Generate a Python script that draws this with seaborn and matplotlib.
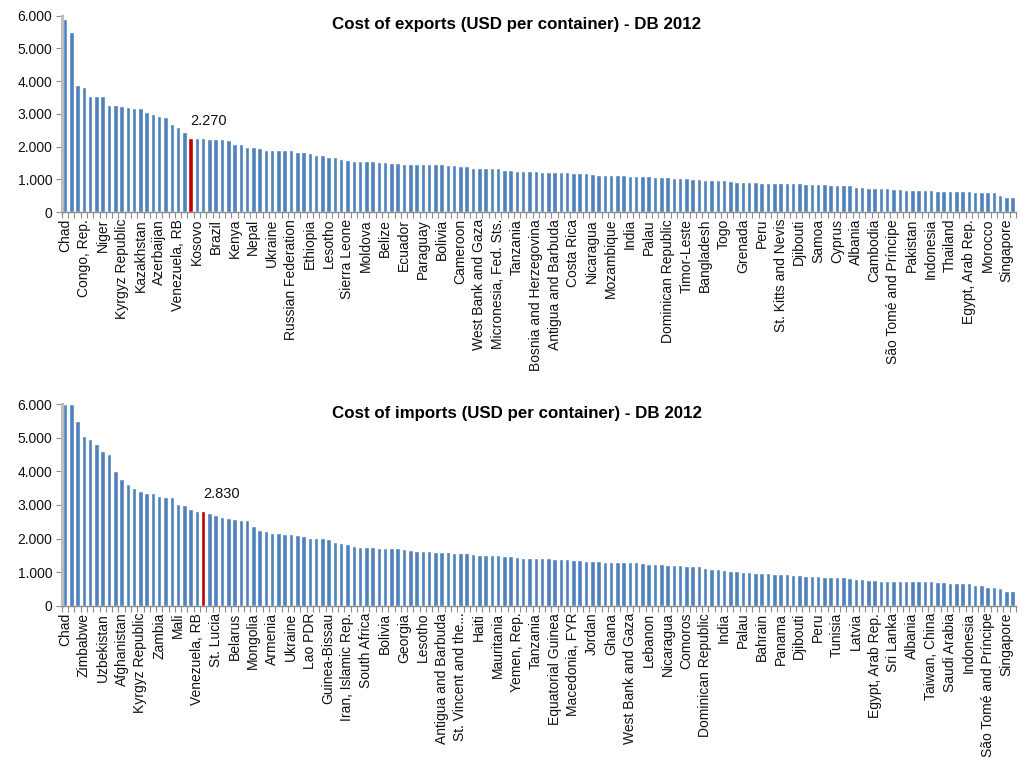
import numpy as np
import matplotlib
matplotlib.use("Agg")
import matplotlib.pyplot as plt
from matplotlib.ticker import FuncFormatter, FixedLocator
import seaborn as sns

# Cost of exports, USD per container (DB 2012), sorted from highest to lowest
export_values = [
    5902, 5490, 3870, 3818, 3545, 3545, 3545, 3280, 3280, 3230,
    3200, 3170, 3170, 3060, 3000, 2930, 2900, 2700, 2590, 2440,
    2270, 2270, 2270, 2240, 2240, 2240, 2215, 2080, 2080, 1990,
    1990, 1955, 1890, 1890, 1890, 1890, 1890, 1820, 1820, 1790,
    1730, 1730, 1690, 1690, 1630, 1600, 1560, 1560, 1560, 1560,
    1525, 1525, 1495, 1495, 1465, 1465, 1465, 1465, 1465, 1465,
    1465, 1425, 1425, 1395, 1395, 1355, 1335, 1335, 1335, 1335,
    1300, 1300, 1260, 1260, 1260, 1260, 1230, 1230, 1230, 1230,
    1230, 1200, 1200, 1200, 1160, 1140, 1140, 1140, 1140, 1140,
    1100, 1100, 1100, 1100, 1070, 1070, 1070, 1040, 1040, 1040,
    1005, 1005, 975, 975, 975, 975, 935, 915, 915, 915,
    915, 885, 885, 885, 885, 885, 885, 885, 845, 845,
    845, 845, 815, 815, 815, 815, 775, 775, 745, 745,
    745, 745, 700, 700, 670, 670, 670, 670, 670, 640,
    640, 640, 640, 640, 640, 610, 610, 610, 610, 510,
    465, 450,
]
export_labels = [
    "Chad", "Congo, Rep.", "Niger", "Kyrgyz Republic", "Kazakhstan",
    "Azerbaijan", "Venezuela, RB", "Kosovo", "Brazil", "Kenya", "Nepal",
    "Ukraine", "Russian Federation", "Ethiopia", "Lesotho", "Sierra Leone",
    "Moldova", "Belize", "Ecuador", "Paraguay", "Bolivia", "Cameroon",
    "West Bank and Gaza", "Micronesia, Fed. Sts.", "Tanzania",
    "Bosnia and Herzegovina", "Antigua and Barbuda", "Costa Rica",
    "Nicaragua", "Mozambique", "India", "Palau", "Dominican Republic",
    "Timor-Leste", "Bangladesh", "Togo", "Grenada", "Peru",
    "St. Kitts and Nevis", "Djibouti", "Samoa", "Cyprus", "Albania",
    "Cambodia", "São Tomé and Príncipe", "Pakistan", "Indonesia",
    "Thailand", "Egypt, Arab Rep.", "Morocco", "Singapore",
]
export_highlight = 20

# Cost of imports, USD per container (DB 2012), sorted from highest to lowest
import_values = [
    6000, 6000, 5490, 5045, 4955, 4800, 4600, 4525, 4010, 3785,
    3620, 3500, 3400, 3370, 3370, 3275, 3245, 3245, 3025, 3000,
    2890, 2830, 2830, 2770, 2715, 2655, 2625, 2595, 2555, 2555,
    2360, 2270, 2230, 2170, 2170, 2140, 2140, 2100, 2070, 2015,
    2015, 2015, 1975, 1905, 1875, 1845, 1785, 1760, 1760, 1760,
    1730, 1730, 1730, 1730, 1690, 1660, 1630, 1630, 1630, 1600,
    1600, 1600, 1570, 1570, 1570, 1540, 1510, 1510, 1510, 1510,
    1480, 1480, 1440, 1415, 1415, 1415, 1415, 1415, 1385, 1385,
    1385, 1355, 1355, 1325, 1325, 1325, 1295, 1295, 1295, 1295,
    1295, 1295, 1275, 1245, 1235, 1235, 1205, 1205, 1205, 1175,
    1175, 1175, 1135, 1105, 1105, 1080, 1050, 1050, 1020, 1020,
    990, 990, 990, 960, 960, 960, 920, 920, 890, 890,
    890, 860, 860, 860, 860, 835, 795, 795, 765, 765,
    735, 735, 735, 735, 735, 735, 735, 735, 735, 705,
    705, 675, 675, 675, 675, 635, 635, 565, 565, 540,
    439, 435,
]
import_labels = [
    "Chad", "Zimbabwe", "Uzbekistan", "Afghanistan", "Kyrgyz Republic",
    "Zambia", "Mali", "Venezuela, RB", "St. Lucia", "Belarus", "Mongolia",
    "Armenia", "Ukraine", "Lao PDR", "Guinea-Bissau", "Iran, Islamic Rep.",
    "South Africa", "Bolivia", "Georgia", "Lesotho", "Antigua and Barbuda",
    "St. Vincent and the...", "Haiti", "Mauritania", "Yemen, Rep.",
    "Tanzania", "Equatorial Guinea", "Macedonia, FYR", "Jordan", "Ghana",
    "West Bank and Gaza", "Lebanon", "Nicaragua", "Comoros",
    "Dominican Republic", "India", "Palau", "Bahrain", "Panama",
    "Djibouti", "Peru", "Tunisia", "Latvia", "Egypt, Arab Rep.",
    "Sri Lanka", "Albania", "Taiwan, China", "Saudi Arabia", "Indonesia",
    "São Tomé and Príncipe", "Singapore",
]
import_highlight = 22

LABEL_STEP = 3
BLUE = "#4F81BD"
RED = "#C00000"

sns.set_theme(style="white")
plt.rcParams["font.family"] = ["Liberation Sans", "DejaVu Sans"]


def thousands(v, _pos):
    return f"{v:,.0f}".replace(",", ".")


def draw_panel(ax, values, labels, highlight, title):
    n = len(values)
    pos = np.arange(n)
    colors = [RED if i == highlight else BLUE for i in pos]
    sns.barplot(x=pos, y=values, hue=pos, palette=colors, legend=False,
                width=0.72, saturation=1, ax=ax)
    ax.set_xlim(-0.5, n - 0.5)
    ax.set_ylim(0, 6000)
    ax.set_yticks(np.arange(0, 6001, 1000))
    ax.yaxis.set_major_formatter(FuncFormatter(thousands))
    ax.set_xticks(pos[::LABEL_STEP])
    ax.set_xticklabels(labels, rotation=90, fontsize=10, color="#111111")
    ax.xaxis.set_minor_locator(FixedLocator(np.arange(-0.5, n, 1)))
    ax.tick_params(axis="x", which="major", length=0, pad=5)
    ax.tick_params(axis="x", which="minor", length=4, width=0.8,
                   color="#8C8C8C", direction="out", bottom=True)
    ax.tick_params(axis="y", which="major", length=4, width=0.8,
                   color="#8C8C8C", direction="out", left=True,
                   labelsize=10, labelcolor="#111111", pad=3)
    ax.set_xlabel("")
    ax.set_ylabel("")
    for side in ("top", "right"):
        ax.spines[side].set_visible(False)
    ax.spines["bottom"].set_color("#8C8C8C")
    ax.spines["bottom"].set_linewidth(1.0)
    ax.spines["left"].set_color("#BDBDBD")
    ax.spines["left"].set_linewidth(2.2)
    ax.grid(False)
    ax.set_title(title, fontsize=12.2, fontweight="bold", color="#000000",
                 x=0.477, y=0.93, pad=0)
    hv = values[highlight]
    ax.annotate(thousands(hv, None), xy=(highlight, hv),
                xytext=(0, 7), textcoords="offset points",
                ha="left", va="bottom", fontsize=10.5, color="#111111")


fig = plt.figure(figsize=(10.22, 7.63), dpi=100)
ax_top = fig.add_axes([0.0606, 0.7221, 0.9334, 0.2573])
ax_bot = fig.add_axes([0.0606, 0.2059, 0.9334, 0.2646])

draw_panel(ax_top, export_values, export_labels, export_highlight,
           "Cost of exports (USD per container) - DB 2012")
draw_panel(ax_bot, import_values, import_labels, import_highlight,
           "Cost of imports (USD per container) - DB 2012")

fig.savefig("out.png", dpi=100, facecolor="white")
